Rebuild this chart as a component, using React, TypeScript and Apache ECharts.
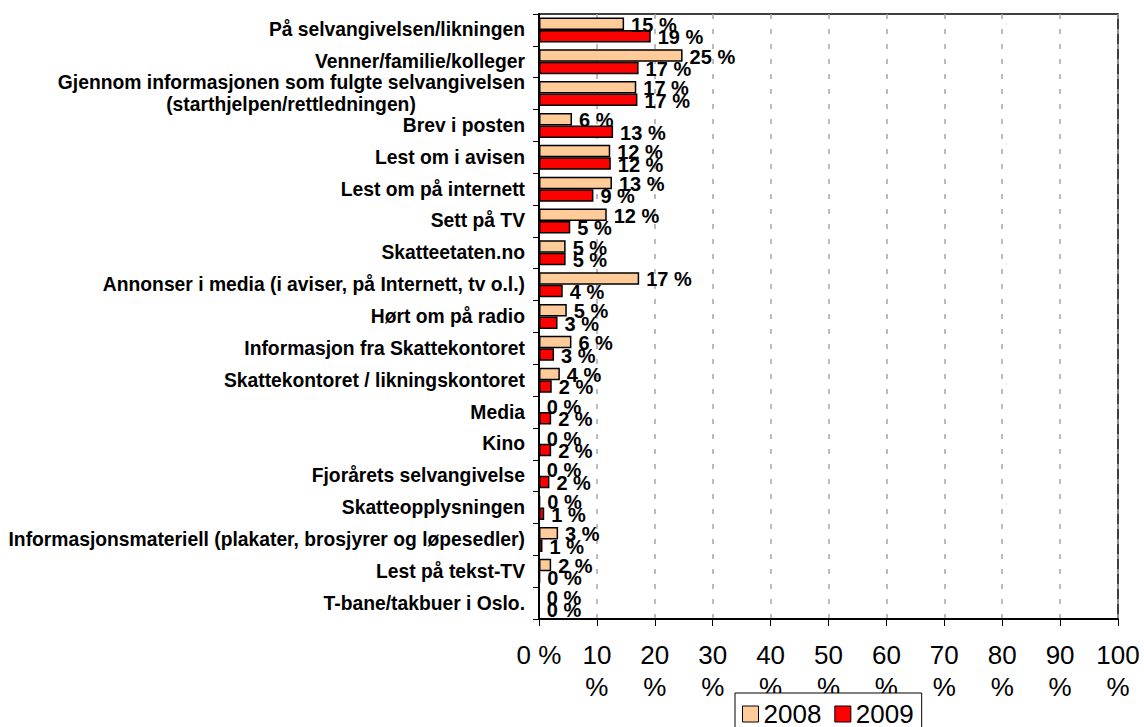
import React, { useEffect, useRef } from "react";
import * as echarts from "echarts";

const categories = [
  "På selvangivelsen/likningen",
  "Venner/familie/kolleger",
  "Gjennom informasjonen som fulgte selvangivelsen\n(starthjelpen/rettledningen)",
  "Brev i posten",
  "Lest om i avisen",
  "Lest om på internett",
  "Sett på TV",
  "Skatteetaten.no",
  "Annonser i media (i aviser, på Internett, tv o.l.)",
  "Hørt om på radio",
  "Informasjon fra Skattekontoret",
  "Skattekontoret / likningskontoret",
  "Media",
  "Kino",
  "Fjorårets selvangivelse",
  "Skatteopplysningen",
  "Informasjonsmateriell (plakater, brosjyrer og løpesedler)",
  "Lest på tekst-TV",
  "T-bane/takbuer i Oslo.",
];

const values2008 = [14.7, 24.8, 16.8, 5.7, 12.3, 12.6, 11.7, 4.6, 17.3, 4.8, 5.6, 3.6, 0, 0, 0, 0.2, 3.3, 2.1, 0];
const values2009 = [19.3, 17.2, 17.0, 12.8, 12.4, 9.4, 5.4, 4.6, 4.1, 3.2, 2.6, 2.2, 2.1, 2.1, 1.8, 0.9, 0.6, 0.2, 0];

const seriesNames = ["2008", "2009"];
const xTicks = [0, 10, 20, 30, 40, 50, 60, 70, 80, 90, 100];

const FONT = "'Liberation Sans', Arial, sans-serif";
const CAT_SIZE = 19.3;

function measure(text: string): number {
  const c = document.createElement("canvas").getContext("2d");
  if (!c) return text.length * 10;
  c.font = `bold ${CAT_SIZE}px 'Liberation Sans', Arial, sans-serif`;
  return c.measureText(text).width;
}

export default function App() {
  const ref = useRef<HTMLDivElement>(null);
  useEffect(() => {
    if (!ref.current) return;
    const chart = echarts.init(ref.current, undefined, { renderer: "svg" });
    const multi = categories.find((c) => c.includes("\n")) || "";
    const firstLineW = Math.ceil(measure(multi.split("\n")[0]));
    const labelStyle = {
      show: true,
      position: "right" as const,
      distance: 7,
      offset: [0, 1],
      fontFamily: FONT,
      fontWeight: "bold" as const,
      fontSize: 20,
      color: "#000",
      formatter: (p: any) => `${Math.round(p.value)} %`,
    };
    chart.setOption({
      animation: false,
      backgroundColor: "#fff",
      grid: {
        left: 539,
        top: 14,
        width: 579,
        height: 605,
        show: true,
        borderColor: "#000",
        borderWidth: 1.5,
      },
      legend: {
        data: seriesNames,
        left: 735,
        top: 693,
        padding: [8, 8, 10, 7],
        itemGap: 13,
        itemWidth: 16,
        itemHeight: 16,
        icon: "rect",
        backgroundColor: "#fff",
        borderColor: "#000",
        borderWidth: 1,
        z: 10,
        textStyle: { fontFamily: FONT, fontSize: 26, color: "#000" },
        itemStyle: { borderColor: "#000", borderWidth: 1 },
      },
      xAxis: {
        type: "value",
        min: 0,
        max: 100,
        interval: 10,
        axisLine: { show: true, lineStyle: { color: "#000", width: 2 } },
        axisTick: { show: true, length: 7, lineStyle: { color: "#000", width: 1 } },
        splitLine: { show: true, lineStyle: { color: "#a6a6a6", width: 1.5, type: [5, 10] } },
        axisLabel: {
          margin: 20,
          fontFamily: FONT,
          fontSize: 26,
          lineHeight: 32,
          color: "#000",
          formatter: (v: number) => (v === 0 ? `${v} %` : `${v}\n%`),
        },
        data: xTicks,
      },
      yAxis: {
        type: "category",
        inverse: true,
        data: categories,
        axisLine: { show: true, lineStyle: { color: "#000", width: 2 } },
        axisTick: { show: true, length: 6, lineStyle: { color: "#000", width: 1 } },
        axisLabel: {
          margin: 14,
          interval: 0,
          fontFamily: FONT,
          fontWeight: "bold",
          fontSize: CAT_SIZE,
          color: "#000",
          lineHeight: 22,
          formatter: (v: string) => {
            if (!v.includes("\n")) return v;
            const [a, b] = v.split("\n");
            return `{a|${a}}\n{b|${b}}`;
          },
          rich: {
            a: { fontFamily: FONT, fontWeight: "bold", fontSize: CAT_SIZE, color: "#000", lineHeight: 22 },
            b: {
              fontFamily: FONT,
              fontWeight: "bold",
              fontSize: CAT_SIZE,
              color: "#000",
              lineHeight: 22,
              width: firstLineW,
              align: "center",
            },
          },
        },
      },
      series: [
        {
          name: seriesNames[0],
          type: "bar",
          data: values2008,
          barWidth: 12.5,
          barGap: "0%",
          itemStyle: { color: "#FFCC99", borderColor: "#000", borderWidth: 1.5 },
          label: labelStyle,
        },
        {
          name: seriesNames[1],
          type: "bar",
          data: values2009,
          barWidth: 12.5,
          barGap: "0%",
          itemStyle: { color: "#FF0000", borderColor: "#000", borderWidth: 1.5 },
          label: labelStyle,
        },
      ],
    });
    return () => chart.dispose();
  }, []);
  return (
    <div
      ref={ref}
      style={{ position: "fixed", left: 0, top: 0, width: 1144, height: 727, background: "#fff" }}
    />
  );
}
